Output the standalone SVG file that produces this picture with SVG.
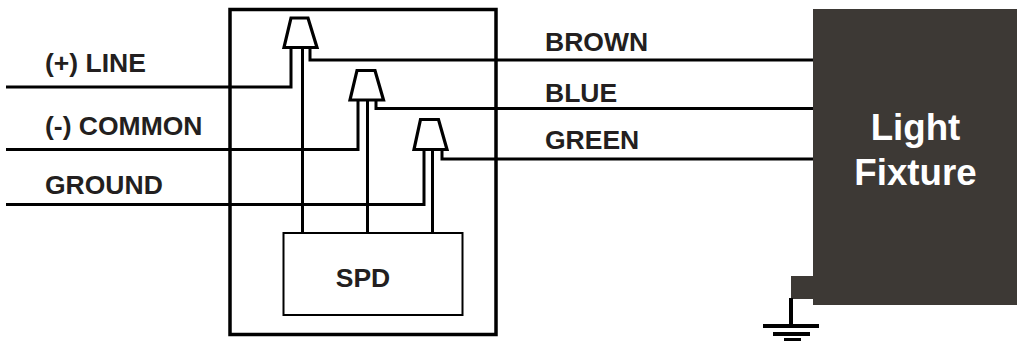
<svg xmlns="http://www.w3.org/2000/svg" width="1017" height="341" viewBox="0 0 1017 341">
<style>
.w{fill:none;stroke:#000;stroke-width:3}
.t{font-family:"Liberation Sans",Arial,sans-serif;font-weight:700;font-size:26.500px;fill:#231f20}
.f{font-family:"Liberation Sans",Arial,sans-serif;font-weight:700;font-size:36.700px;fill:#fff;text-anchor:middle}
.c{fill:#fff;stroke:#000;stroke-width:3.200}
.d{fill:#3d3935}
</style>
<rect width="1017" height="341" fill="#fff"/>
<g id="enclosure"><rect x="230" y="9.500" width="266" height="325" fill="none" stroke="#000" stroke-width="3.500"/></g>
<g id="connectors">
<path class="w" d="M6 87H291V48"/>
<path class="w" d="M6 149.500H358V100"/>
<path class="w" d="M6 204.500H424V150"/>
<path class="w" d="M302.500 48V233"/>
<path class="w" d="M367.500 100V233"/>
<path class="w" d="M432.500 150V233"/>
<path class="w" d="M310 48V60H813"/>
<path class="w" d="M376 100V108.500H813"/>
<path class="w" d="M442 150V159H813"/>
</g>
<g id="connector-1"><path class="c" d="M291 18H308L317 47.500H284Z"/></g>
<g id="connector-2"><path class="c" d="M357 70.500H375L383.500 100H350Z"/></g>
<g id="connector-3"><path class="c" d="M420.500 119.500H438.500L447 149.500H414Z"/></g>
<g id="spd"><rect x="283.500" y="233" width="179" height="82" fill="#fff" stroke="#000" stroke-width="2"/><text class="t" x="363" y="287" text-anchor="middle">SPD</text></g>
<g id="light-fixture"><rect class="d" x="813" y="9" width="204" height="296"/><rect class="d" x="791" y="276" width="30" height="23"/><text class="f" x="915.500" y="139.500">Light</text><text class="f" x="915.500" y="184.500">Fixture</text></g>
<g id="ground"><path d="M791 298V325" stroke="#000" stroke-width="4"/><path d="M763 326H819" stroke="#000" stroke-width="4"/><path d="M773 334H810" stroke="#000" stroke-width="4"/><path d="M784 339.500H801" stroke="#000" stroke-width="3"/></g>
<g id="labels">
<text class="t" x="45" y="72">(+) LINE</text>
<text class="t" x="45" y="134.500">(-) COMMON</text>
<text class="t" x="45" y="194">GROUND</text>
<text class="t" x="545" y="50.500">BROWN</text>
<text class="t" x="545" y="102">BLUE</text>
<text class="t" x="545" y="148.500">GREEN</text>
</g>
</svg>
